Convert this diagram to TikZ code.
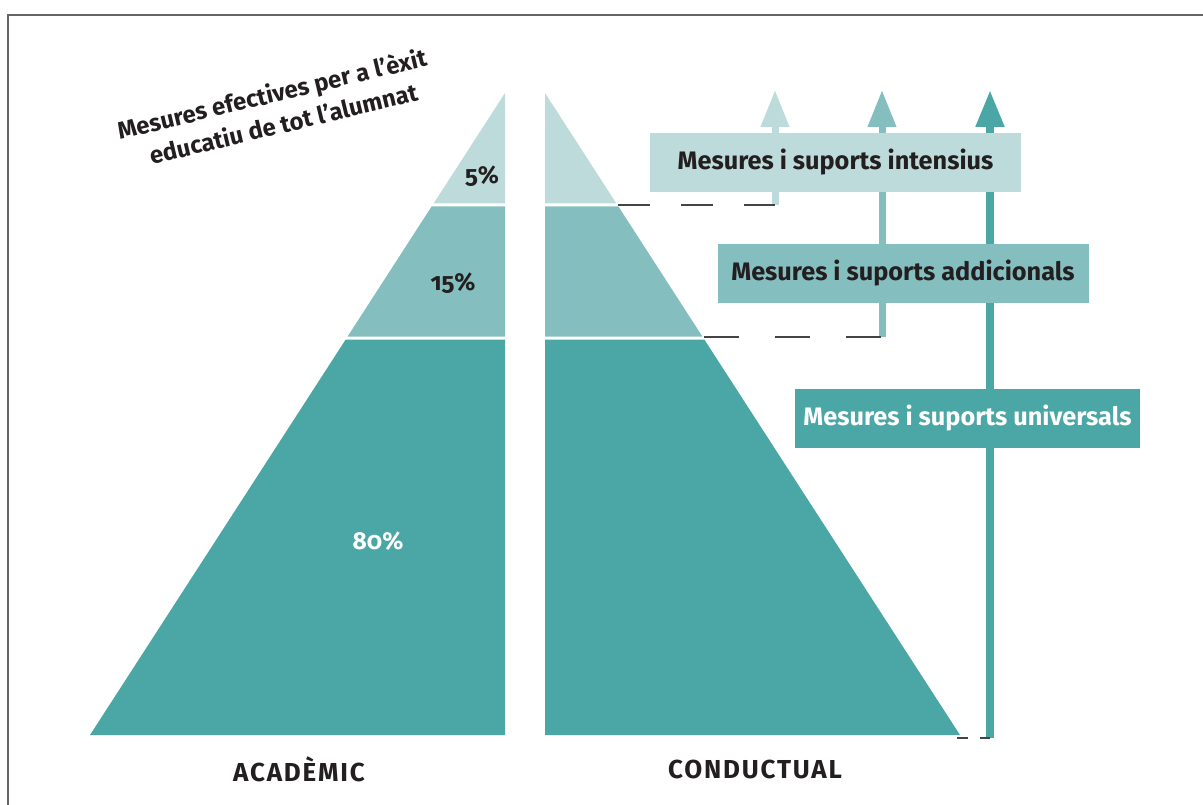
\documentclass[tikz,border=0pt]{standalone}
\usepackage{fontspec}
\setmainfont{Fira Sans}[Numbers=OldStyle]
\usetikzlibrary{arrows.meta}
\definecolor{lightT}{HTML}{BEDBDB}
\definecolor{midT}{HTML}{85BEBF}
\definecolor{darkT}{HTML}{4BA7A5}
\definecolor{ink}{HTML}{231F20}
\definecolor{frameC}{HTML}{666666}
\definecolor{dashC}{HTML}{444444}
\tikzset{
  boxlabel/.style={inner sep=0pt, minimum width=371pt, minimum height=59pt, font=\fontsize{25.3}{29}\selectfont\bfseries, text=ink},
  pct/.style={inner sep=0pt, font=\fontsize{24.5}{28}\selectfont\bfseries\addfontfeatures{Numbers=OldStyle}},
  axislabel/.style={inner sep=0pt, font=\fontsize{26}{30}\selectfont\bfseries\addfontfeatures{LetterSpace=7}, text=ink},
  titleline/.style={inner sep=0pt, anchor=base, rotate=13.5, text=ink, font=\fontsize{24}{28}\selectfont\bfseries},
  uparrow/.style={line width=#1, -{Triangle[length=37pt,width=27pt]}},
  leader/.style={dashC, line width=1.5pt}
}
\begin{document}
\begin{tikzpicture}[x=1pt,y=-1pt]
\useasboundingbox (0,0) rectangle (1203,805);
% frame
\draw[frameC, line width=2pt] (8,805) -- (8,15) -- (1203,15);
% left pyramid
\fill[lightT] (505,93) -- (505,203.5) -- (433.6,203.5) -- cycle;
\fill[midT] (505,206.5) -- (505,336.5) -- (347.6,336.5) -- (431.6,206.5) -- cycle;
\fill[darkT] (505,339.5) -- (505,735) -- (90,735) -- (345.7,339.5) -- cycle;
% right pyramid
\fill[lightT] (545,93) -- (545,203.5) -- (616.4,203.5) -- cycle;
\fill[midT] (545,206.5) -- (545,336.5) -- (702.4,336.5) -- (618.4,206.5) -- cycle;
\fill[darkT] (545,339.5) -- (545,735) -- (960,735) -- (704.3,339.5) -- cycle;
% coordinates
\coordinate (r1) at (618.4,205);
\coordinate (r2) at (704.3,337);
\coordinate (r3) at (957,738);
\coordinate (a1b) at (775,205);
\coordinate (a1t) at (775,90);
\coordinate (a2b) at (882,337);
\coordinate (a2t) at (882,90);
\coordinate (a3b) at (990,738);
\coordinate (a3t) at (990,90);
% arrows
\draw[lightT, uparrow=7pt] (a1b) -- (a1t);
\draw[midT, uparrow=7pt] (a2b) -- (a2t);
\draw[darkT, uparrow=8pt] (a3b) -- (a3t);
% leaders
\draw[leader, dash pattern=on 32pt off 31pt] (r1) -- (a1b);
\draw[leader, dash pattern=on 35pt off 36pt] (r2) -- (a2b);
\draw[leader, dash pattern=on 11pt off 12pt] (r3) -- (a3b);
% boxes
\node[boxlabel, fill=lightT] (intens) at (835.5,162.5) {Mesures i suports intensius};
\node[boxlabel, fill=midT] (addic) at (903,273.5) {Mesures i suports addicionals};
\node[boxlabel, fill=darkT, minimum width=345pt, text=white] (univ) at (967.5,418.5) {Mesures i suports universals};
% percentages
\node[pct, text=ink] (p5) at (482,176) {5\%};
\node[pct, text=ink] (p15) at (453,283) {15\%};
\node[pct, text=white] (p80) at (378,541) {80\%};
% axis labels
\node[axislabel] (acad) at (299,769) {ACADÈMIC};
\node[axislabel] (cond) at (755,769) {CONDUCTUAL};
% title
\node[titleline] (title1) at (274,102.5) {Mesures efectives per a l’èxit};
\node[titleline] (title2) at (285.5,132.5) {educatiu de tot l’alumnat};
\end{tikzpicture}
\end{document}
